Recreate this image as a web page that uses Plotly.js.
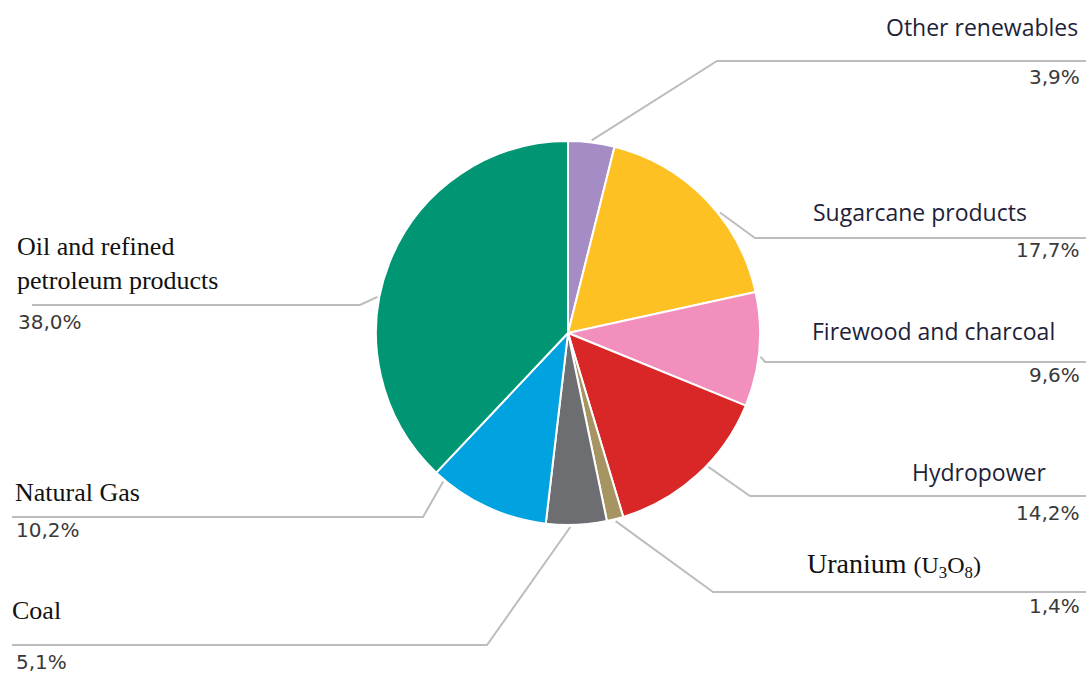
<!DOCTYPE html>
<html>
<head>
<meta charset="utf-8">
<script src="https://cdn.plot.ly/plotly-3.0.1.min.js"></script>
<style>html,body{margin:0;padding:0;background:#fff}#chart{width:1086px;height:673px}</style>
</head>
<body>
<div id="chart"></div>
<script>
// ---- data ----
var categories = ["Other renewables", "Sugarcane products", "Firewood and charcoal", "Hydropower", "Uranium (U3O8)", "Coal", "Natural Gas", "Oil and refined petroleum products"];
var shares = [3.9, 17.7, 9.6, 14.2, 1.4, 5.1, 10.2, 38.0];
var shareLabels = ["3,9%", "17,7%", "9,6%", "14,2%", "1,4%", "5,1%", "10,2%", "38,0%"];
var labelTexts = ["Other renewables", "Sugarcane products", "Firewood and charcoal", "Hydropower", "Uranium <span style='font-size:24px'>(U<sub>3</sub>O<sub>8</sub>)</span>", "Coal", "Natural Gas", "Oil and refined<br>petroleum products"];
var colors = ["#a58cc4", "#fdc124", "#f28fbc", "#d92626", "#a79463", "#6d6e71", "#00a2e0", "#009674"];

// ---- layout geometry (pixels) ----
var W = 1086, H = 673;
var cx = 568, cy = 333, R = 192;
var style = [
  {f:0.5,  ex:717, ey:61,  endx:1086, side:"r", lx:884, ly:27,  px:1082, py:77,  font:"sans"},
  {f:0.59, ex:755, ey:238, endx:1086, side:"r", lx:811, ly:212, px:1082, py:250, font:"sans"},
  {f:0.56, ex:765, ey:362, endx:1086, side:"r", lx:810, ly:331, px:1082, py:375, font:"sans"},
  {f:0.42, ex:750, ey:496, endx:1086, side:"r", lx:910, ly:472, px:1082, py:513, font:"sans"},
  {f:0.5,  ex:713, ey:592, endx:1086, side:"r", lx:805, ly:565, px:1082, py:606, font:"serifBig"},
  {f:0.6,  ex:487, ey:645, endx:12,   side:"l", lx:10,  ly:610, px:14,  py:662, font:"serif"},
  {f:0.91, ex:423, ey:517, endx:12,   side:"l", lx:13,  ly:493, px:14,  py:530, font:"serif"},
  {f:0.42, ex:360, ey:305, endx:32,   side:"l", lx:15,  ly:264, px:16,  py:322, font:"serif"}
];
function px2x(x){return x/W;}
function px2y(y){return 1 - y/H;}

var total = shares.reduce(function(a,b){return a+b;},0);
var shapes = [], annotations = [];
var cum = 0;
shares.forEach(function(v,i){
  var s = style[i];
  var frac = (cum + v*s.f)/total;
  cum += v;
  var ang = frac*2*Math.PI;
  var sx = cx + (R+2)*Math.sin(ang), sy = cy - (R+2)*Math.cos(ang);
  var path = "M" + px2x(sx) + "," + px2y(sy) + " L" + px2x(s.ex) + "," + px2y(s.ey) + " L" + px2x(s.endx) + "," + px2y(s.ey);
  shapes.push({type:"path", xref:"paper", yref:"paper", path:path, line:{color:"#bdbdbd", width:2}});
  var f;
  if (s.font === "sans") f = {family:"Open Sans, sans-serif", size:23, color:"#1f1f3a"};
  else if (s.font === "serifBig") f = {family:"Liberation Serif, serif", size:28, color:"#111"};
  else f = {family:"Liberation Serif, serif", size:26, color:"#111"};
  annotations.push({xref:"paper", yref:"paper", x:px2x(s.lx), y:px2y(s.ly), xanchor:"left", yanchor:"middle",
    text:labelTexts[i], showarrow:false, align:"left", font:f});
  annotations.push({xref:"paper", yref:"paper", x:px2x(s.px), y:px2y(s.py), xanchor:(s.side==="r"?"right":"left"), yanchor:"middle",
    text:shareLabels[i], showarrow:false, font:{family:"DejaVu Sans, sans-serif", size:20, color:"#3a3a3a"}});
});

var trace = {
  type:"pie",
  labels:categories,
  values:shares,
  sort:false,
  direction:"clockwise",
  rotation:0,
  textinfo:"none",
  hoverinfo:"label+percent",
  marker:{colors:colors, line:{color:"#ffffff", width:2}},
  domain:{x:[px2x(cx-R), px2x(cx+R)], y:[px2y(cy+R), px2y(cy-R)]},
  showlegend:false
};

var layout = {
  width:W, height:H,
  margin:{l:0,r:0,t:0,b:0},
  paper_bgcolor:"#ffffff",
  plot_bgcolor:"#ffffff",
  showlegend:false,
  shapes:shapes,
  annotations:annotations
};

Plotly.newPlot("chart", [trace], layout, {displayModeBar:false, staticPlot:true});
</script>
</body>
</html>
